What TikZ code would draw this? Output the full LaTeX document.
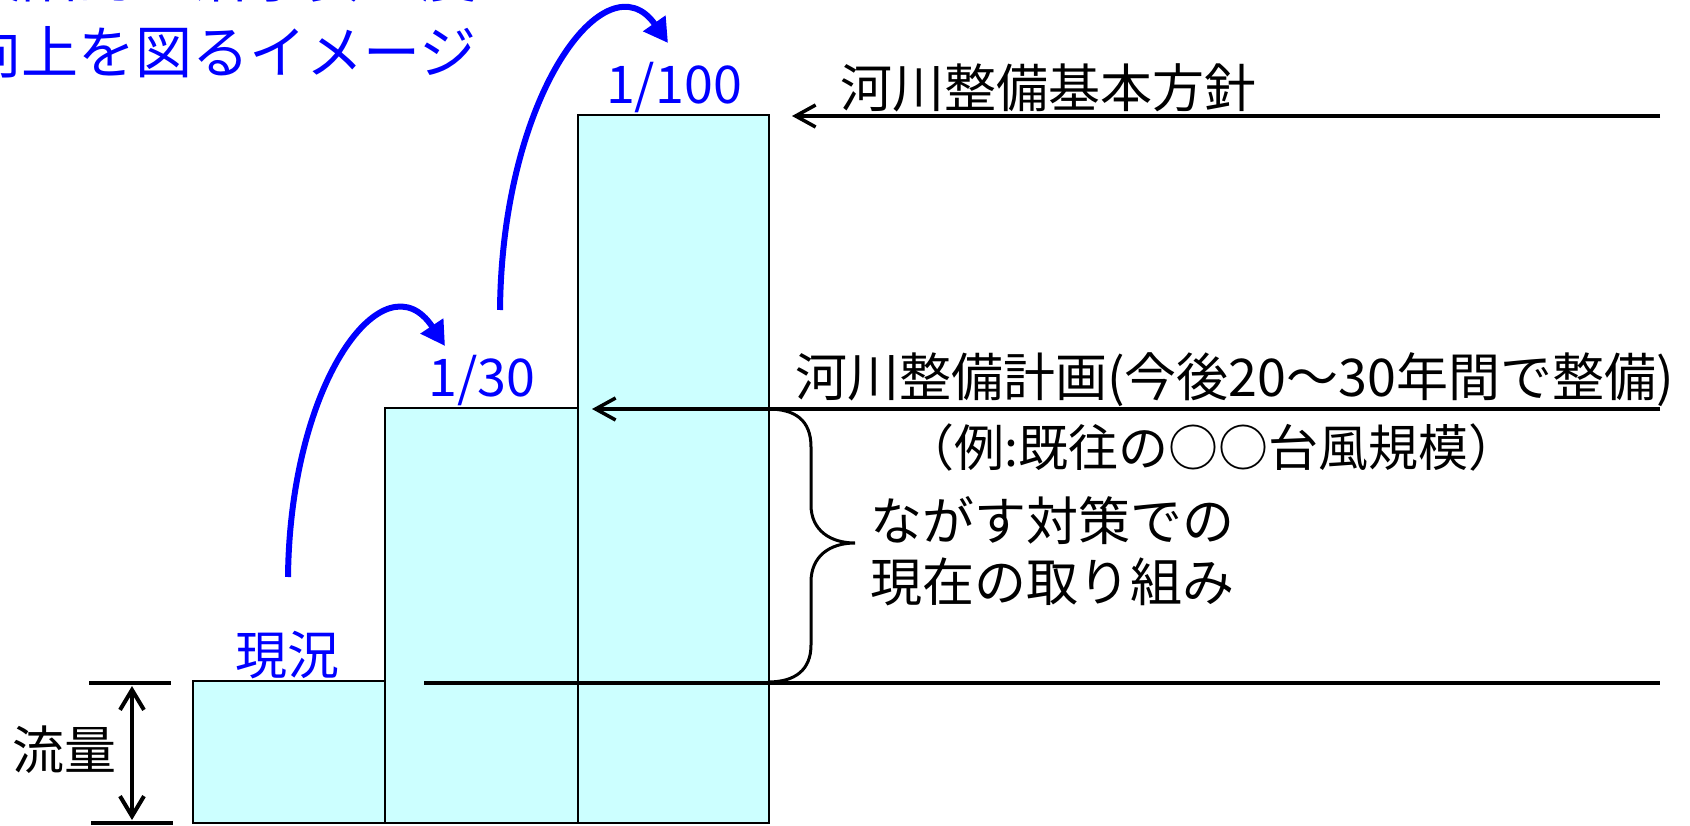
\documentclass[tikz,border=0pt]{standalone}
\usepackage{fontspec}
\newfontfamily\jp{Noto Sans CJK JP}
\usetikzlibrary{arrows.meta}
\definecolor{barfill}{RGB}{204,255,255}
\definecolor{ttlblue}{RGB}{0,0,255}
\begin{document}
\begin{tikzpicture}[x=1pt,y=1pt,
  txt/.style={font=\jp\fontsize{52}{60}\selectfont, inner sep=0pt, anchor=west},
  bluetxt/.style={txt, text=ttlblue},
  titletxt/.style={bluetxt, font=\jp\fontsize{57}{60}\selectfont},
  bar/.style={draw=black, fill=barfill, line width=2pt, inner sep=0pt, anchor=south west},
  blk/.style={line width=3.5pt},
  barb/.style={-{Straight Barb[length=20pt,width=22pt]}},
  bluearrow/.style={draw=ttlblue, line width=6pt, -{Triangle[length=24pt,width=26pt]}}]
\path[use as bounding box] (0,0) rectangle (1690,-826);
\clip (0,0) rectangle (1690,-826);

% title (partly cut off at the top)
\node[titletxt] (title1) at (-36,24) {段階的に治水安全度};
\node[titletxt] (title2) at (-36,-52) {向上を図るイメージ};

% bars
\node[bar, minimum width=192pt, minimum height=142pt] (b1) at (192,-824) {};
\node[bar, minimum width=193pt, minimum height=415pt] (b2) at (384,-824) {};
\node[bar, minimum width=191pt, minimum height=708pt] (b3) at (577,-824) {};

% bar labels
\node[bluetxt, anchor=center] (l1) at (287,-655) {現況};
\node[bluetxt, anchor=center] (l2) at (482,-381) {1/30};
\node[bluetxt, anchor=center] (l3) at (674,-88) {1/100};

% blue step arrows
\coordinate (a1s) at (288,-577);
\coordinate (a1e) at (445,-346);
\coordinate (a2s) at (500,-310);
\coordinate (a2e) at (668,-43);
\draw[bluearrow] (a1s) .. controls (290,-380) and (385,-255) .. (a1e);
\draw[bluearrow] (a2s) .. controls (502,-93) and (607,44) .. (a2e);

% level lines
\coordinate (r1) at (1660,-116);
\coordinate (t1) at (792,-116);
\coordinate (r2) at (1660,-409);
\coordinate (t2) at (592,-409);
\coordinate (r3) at (1660,-683);
\coordinate (s3) at (424,-683);
\draw[blk,barb] (r1) -- (t1);
\draw[blk,barb] (r2) -- (t2);
\draw[blk] (s3) -- (r3);

% brace
\coordinate (bt) at (768,-409);
\coordinate (bb) at (768,-682);
\draw[line width=3pt] (bt) .. controls (795,-409) and (811,-420) .. (811,-447)
  -- (811,-505) .. controls (811,-530) and (830,-543) .. (855,-543)
  .. controls (830,-543) and (811,-556) .. (811,-582)
  -- (811,-645) .. controls (811,-670) and (795,-682) .. (bb);

% texts
\node[txt] (t_kihon) at (840,-88) {河川整備基本方針};
\node[txt] (t_keikaku) at (795,-380) {河川整備計画(今後20～30年間で整備)};
\node[txt, font=\jp\fontsize{50}{60}\selectfont] (t_rei) at (904,-447) {（例:既往の○○台風規模）};
\node[txt] (t_nagasu) at (870,-521) {ながす対策での};
\node[txt] (t_genzai) at (870,-582) {現在の取り組み};

% flow dimension
\coordinate (d1a) at (89,-683);
\coordinate (d1b) at (171,-683);
\coordinate (d2a) at (91,-823);
\coordinate (d2b) at (173,-823);
\draw[line width=4.5pt] (d1a) -- (d1b);
\draw[line width=4.5pt] (d2a) -- (d2b);
\coordinate (dt) at (132,-686);
\coordinate (db) at (132,-820);
\draw[line width=4pt, {Straight Barb[length=20pt,width=24pt]}-{Straight Barb[length=20pt,width=24pt]}] (dt) -- (db);
\node[txt] (t_ryuryo) at (12,-750) {流量};
\end{tikzpicture}
\end{document}
